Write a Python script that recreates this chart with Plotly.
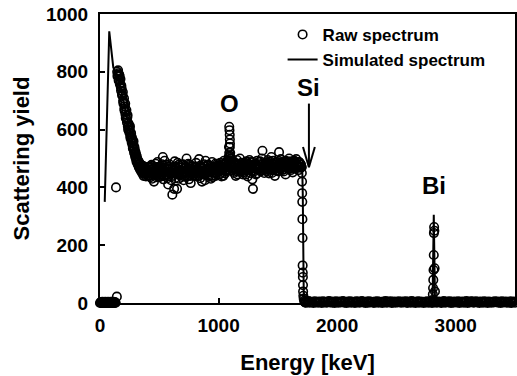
import numpy as np
import plotly.graph_objects as go

# ---------------- data ----------------
# low-energy channels (near zero)
low_energy = np.arange(0, 136, 4)
low_yield = [0, 2, 1, 3, 0, 4, 1, 2, 0, 3, 1, 4, 2, 0, 3, 1, 2, 4, 0, 1,
             3, 2, 0, 4, 1, 3, 0, 2, 4, 1, 3, 0, 2, 1]

# isolated points
iso_energy = [135, 142]
iso_yield = [400, 22]

# steep descent at the start of the spectrum (two interleaved channel sets)
desc_energy = np.arange(145, 400, 5)
desc_yield = [800, 790, 795, 772, 785, 760, 748, 752, 725, 718, 700, 695, 672, 680, 652,
              660, 635, 642, 612, 622, 598, 605, 578, 590, 565, 572, 545, 552, 530, 540,
              512, 522, 498, 508, 486, 495, 478, 488, 468, 480, 462, 475, 455, 470, 450,
              466, 448, 462, 445, 458, 450]
desc2_energy = np.arange(147.5, 400, 5)
desc2_yield = [785, 805, 770, 790, 758, 775, 735, 742, 718, 730, 690, 708, 665, 690, 640,
               668, 625, 650, 600, 615, 590, 612, 570, 585, 555, 565, 535, 560, 520, 532,
               505, 515, 490, 500, 480, 488, 470, 482, 462, 472, 455, 468, 448, 475, 440,
               460, 452, 470, 438, 462, 455]

# plateau (Si + O region), three interleaved channel sets
plat_energy = np.arange(400, 1710, 10)
plat_yield = [458, 440, 472, 450, 430, 465, 447, 482, 455, 438,
              470, 445, 460, 505, 440, 455, 478, 432, 462, 450,
              425, 375, 448, 490, 452, 395, 470, 445, 458, 436,
              480, 455, 442, 500, 460, 428, 466, 450, 474, 440,
              455, 485, 438, 462, 450, 470, 420, 458, 445, 492,
              452, 466, 440, 475, 455, 435, 470, 460, 448, 482,
              458, 445, 472, 465, 440, 480, 455, 490, 470, 520,
              505, 475, 460, 450, 485, 465, 445, 478, 500, 455,
              468, 452, 480, 445, 472, 460, 495, 450, 475, 395,
              455, 482, 448, 470, 465, 490, 458, 527, 472, 460,
              478, 455, 485, 462, 470, 450, 492, 466, 480, 458,
              475, 522, 462, 488, 470, 455, 480, 468, 490, 465,
              478, 460, 485, 470, 492, 465, 480, 472, 488, 468,
              470]
plat2_energy = np.arange(405, 1700, 10)
plat2_yield = [448, 462, 435, 478, 455, 420, 470, 442, 488, 452,
               436, 475, 458, 428, 492, 446, 465, 410, 480, 455,
               462, 440, 395, 472, 448, 485, 430, 460, 445, 478,
               425, 468, 452, 438, 482, 458, 415, 472, 448, 462,
               440, 470, 455, 498, 432, 465, 448, 480, 425, 460,
               478, 445, 462, 430, 488, 452, 468, 440, 475, 455,
               470, 485, 438, 458, 492, 448, 475, 462, 505, 540,
               490, 458, 482, 470, 440, 495, 462, 455, 472, 485,
               445, 478, 458, 490, 438, 482, 462, 470, 428, 488,
               475, 445, 492, 462, 480, 455, 500, 468, 450, 485,
               462, 495, 448, 478, 505, 460, 472, 440, 488, 470,
               455, 482, 498, 460, 475, 490, 445, 485, 470, 500,
               465, 490, 452, 480, 470, 498, 475, 460, 485, 478]
plat3_energy = np.arange(403, 1700, 10)
plat3_yield = [452, 468, 440, 462, 475, 445, 458, 435, 470, 448,
               462, 438, 480, 452, 468, 442, 455, 472, 440, 465,
               448, 470, 458, 432, 466, 450, 478, 442, 460, 470,
               455, 438, 468, 450, 462, 478, 440, 465, 455, 448,
               470, 448, 462, 440, 475, 455, 468, 445, 472, 458,
               462, 478, 452, 466, 440, 470, 458, 482, 450, 468,
               462, 475, 450, 480, 468, 458, 485, 470, 495, 510,
               478, 468, 490, 462, 475, 455, 482, 468, 460, 478,
               472, 462, 485, 470, 458, 478, 466, 488, 472, 460,
               468, 480, 462, 475, 488, 470, 460, 482, 475, 465,
               485, 470, 462, 490, 475, 482, 460, 478, 470, 488,
               468, 478, 485, 470, 482, 462, 492, 475, 480, 470,
               485, 472, 478, 490, 468, 482, 475, 488, 470, 480]

# oxygen peak
o_energy = [1088, 1090, 1092, 1094, 1095, 1096, 1098, 1100]
o_yield = [540, 610, 598, 582, 566, 552, 520, 500]

# silicon edge
edge_energy = [1700, 1702, 1704, 1705, 1706, 1707, 1708, 1709, 1710, 1711, 1712, 1713,
               1715, 1718, 1722, 1726, 1730, 1735]
edge_yield = [470, 450, 420, 380, 350, 290, 225, 130, 105, 90, 62, 40,
              25, 15, 8, 4, 2, 1]

# background above the Si edge
bg_energy = np.arange(1740, 3510, 10)
bg_yield = [5, 2, 7, 1, 4, 3, 0, 6, 2, 4, 1, 5, 3, 0, 6, 2, 4, 1, 3, 7,
            2, 5, 1, 4, 0, 6, 3, 1, 5, 2, 4, 7, 1, 3, 0, 5, 2, 6, 1, 4,
            3, 0, 6, 2, 5, 1, 4, 7, 2, 3, 0, 5, 1, 6, 2, 4, 3, 0, 5, 2,
            6, 1, 4, 3, 0, 5, 2, 7, 1, 4, 3, 6, 0, 2, 5, 1, 4, 2, 6, 3,
            1, 5, 2, 4, 6, 0, 3, 5, 1, 7, 2, 4, 0, 3, 6, 1, 5, 2, 4, 0,
            4, 2, 6, 1, 3, 5, 0, 4, 2, 6, 1, 3, 5, 2, 0, 4, 7, 1, 3, 5,
            2, 6, 0, 4, 1, 5, 3, 2, 6, 0, 4, 2, 5, 1, 3, 7, 0, 4, 2, 6,
            5, 1, 3, 6, 2, 4, 0, 5, 3, 1, 6, 2, 4, 0, 5, 3, 1, 4, 2, 6,
            3, 5, 1, 4, 0, 6, 2, 3, 5, 1, 4, 2, 6, 0, 3, 5, 1]

# bismuth peak
bi_energy = [2804, 2807, 2809, 2811, 2813, 2815, 2816, 2818, 2820, 2822, 2825]
bi_yield = [10, 30, 52, 80, 114, 166, 242, 263, 250, 120, 40]

# simulated spectrum
sim_energy = [40, 78, 112, 150, 200, 250, 300, 350, 400, 500, 600, 700, 800, 900, 1000,
              1060, 1090, 1100, 1130, 1200, 1300, 1400, 1500, 1600, 1690, 1706, 1710,
              1714, 1718, 1725, 1740, 1800, 2000, 2500, 2790, 2805, 2815, 2825, 2840,
              3000, 3500]
sim_yield = [350, 940, 815, 785, 695, 595, 515, 475, 460, 455, 452, 452, 455, 457, 460,
             465, 500, 510, 470, 462, 465, 468, 470, 472, 472, 460, 380,
             150, 40, 15, 6, 3, 3, 3, 3, 20, 305, 20, 3,
             3, 3]

x_ticks = [0, 1000, 2000, 3000]
y_ticks = [0, 200, 400, 600, 800, 1000]

# labels: (text, energy, yield)
labels = [("O", 1095, 692), ("Si", 1762, 744), ("Bi", 2820, 408)]
# Si arrow: energy, tail yield, tip yield
arrow_e, arrow_tail, arrow_tip = 1762, 690, 470

# ---------------- figure ----------------
raw_x = np.concatenate([low_energy, iso_energy, desc_energy, desc2_energy, plat_energy,
                        plat2_energy, plat3_energy, o_energy, edge_energy, bg_energy,
                        bi_energy])
raw_y = np.concatenate([low_yield, iso_yield, desc_yield, desc2_yield, plat_yield,
                        plat2_yield, plat3_yield, o_yield, edge_yield, bg_yield,
                        bi_yield])

FONT = "Liberation Sans, Arial, sans-serif"

fig = go.Figure()
fig.add_trace(go.Scatter(
    x=raw_x, y=raw_y, mode="markers", name="Raw spectrum", cliponaxis=False,
    marker=dict(symbol="circle-open", size=8.5, color="black", line=dict(width=1.6)),
))
fig.add_trace(go.Scatter(
    x=sim_energy, y=sim_yield, mode="lines", name="Simulated spectrum", cliponaxis=False,
    line=dict(color="black", width=2),
))

for txt, ex, ey in labels:
    fig.add_annotation(x=ex, y=ey, text=txt, showarrow=False, xref="x", yref="y",
                       font=dict(family=FONT, size=24, color="black", weight="bold"))

# arrow: shaft + open V head
fig.add_shape(type="line", xref="x", yref="y", x0=arrow_e, x1=arrow_e,
              y0=arrow_tail, y1=arrow_tip, line=dict(color="black", width=2))
fig.add_shape(type="line", xref="x", yref="y", x0=arrow_e - 50, x1=arrow_e,
              y0=arrow_tip + 70, y1=arrow_tip, line=dict(color="black", width=2))
fig.add_shape(type="line", xref="x", yref="y", x0=arrow_e + 50, x1=arrow_e,
              y0=arrow_tip + 70, y1=arrow_tip, line=dict(color="black", width=2))

fig.update_layout(
    width=517, height=376,
    margin=dict(l=100, r=2, t=14, b=73, autoexpand=False),
    paper_bgcolor="white", plot_bgcolor="white",
    font=dict(family=FONT, color="black", weight="bold"),
    showlegend=True,
    legend=dict(x=0.44, y=0.99, xanchor="left", yanchor="top",
                bgcolor="rgba(0,0,0,0)", borderwidth=0,
                font=dict(family=FONT, size=17, color="black", weight="bold"),
                tracegroupgap=0),
)
fig.update_xaxes(
    range=[0, 3500], tickvals=x_ticks, ticktext=[str(v) for v in x_ticks],
    showline=True, linecolor="black", linewidth=2, mirror=True,
    ticks="inside", ticklen=5, tickwidth=2, tickcolor="black",
    showgrid=False, zeroline=False, automargin=False, ticklabelstandoff=4,
    tickfont=dict(family=FONT, size=19, color="black", weight="bold"),
    title=dict(text="Energy [keV]", standoff=20,
               font=dict(family=FONT, size=22, color="black", weight="bold")),
)
fig.update_yaxes(
    range=[0, 1000], tickvals=y_ticks, ticktext=[str(v) for v in y_ticks],
    showline=True, linecolor="black", linewidth=2, mirror=True,
    ticks="inside", ticklen=5, tickwidth=2, tickcolor="black",
    showgrid=False, zeroline=False, automargin=False, ticklabelstandoff=6,
    tickfont=dict(family=FONT, size=19, color="black", weight="bold"),
    title=dict(text="Scattering yield", standoff=10,
               font=dict(family=FONT, size=22, color="black", weight="bold")),
)

fig.write_html("out.html", config={"displayModeBar": False},
               post_script="document.body.style.margin='0';")
